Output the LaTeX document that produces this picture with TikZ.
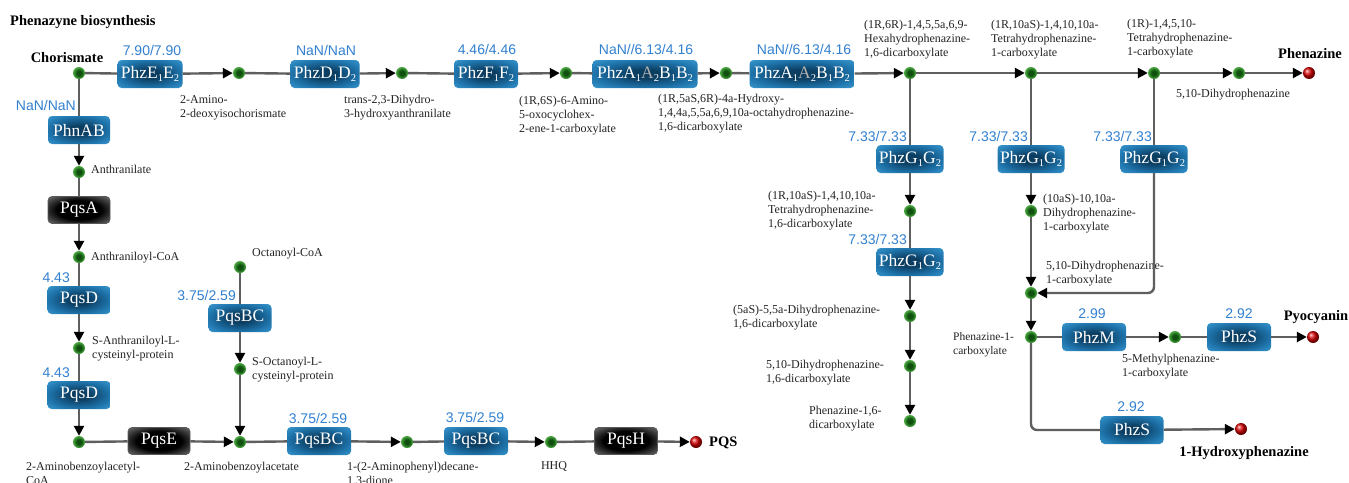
\documentclass[tikz,border=0pt]{standalone}
\usepackage{fontspec}
\setmainfont{Liberation Serif}
\newfontfamily\numfont{Liberation Sans}
\usetikzlibrary{arrows.meta,shapes.geometric}
\definecolor{numblue}{RGB}{50,128,208}
\definecolor{boxin}{RGB}{12,62,98}
\definecolor{boxmid}{RGB}{30,115,170}
\definecolor{boxout}{RGB}{62,160,215}
\definecolor{lnc}{RGB}{95,95,95}
\definecolor{lbc}{RGB}{35,35,35}
\definecolor{dotin}{RGB}{15,80,15}
\definecolor{dotout}{RGB}{75,170,65}
\definecolor{grA}{RGB}{175,175,175}
\newcommand\sbs[1]{\raisebox{-0.2em}{\fontsize{10.5}{10.5}\selectfont #1}}
\pgfdeclareradialshading{enzshade}{\pgfpoint{0bp}{0bp}}{color(0bp)=(boxin); color(8bp)=(boxin); color(24bp)=(boxmid); color(38bp)=(boxout); color(50bp)=(boxout)}
\pgfdeclareradialshading{blkshade}{\pgfpoint{0bp}{0bp}}{color(0bp)=(black); color(18bp)=(black); color(36bp)=(black!55); color(50bp)=(black!10)}
\pgfdeclareradialshading{dotshade}{\pgfpoint{0bp}{0bp}}{color(0bp)=(dotin); color(10bp)=(dotin); color(25bp)=(dotout); color(50bp)=(dotout)}
\begin{document}
\begin{tikzpicture}[x=1pt,y=-1pt,
  enz/.style={rectangle, rounded corners=4pt, shading=enzshade, text=white,
    font=\fontsize{17.5}{17.5}\selectfont, minimum height=28pt, minimum width=64pt, inner sep=1pt},
  blk/.style={rectangle, rounded corners=4pt, shading=blkshade, draw=black!65, line width=0.7pt,
    text=white, font=\fontsize{17.5}{17.5}\selectfont, minimum height=27pt, minimum width=62pt, inner sep=1pt},
  gdot/.style={circle, shading=dotshade, minimum size=12pt, inner sep=0pt},
  rdot/.style={circle, ball color=red!85!black, minimum size=12pt, inner sep=0pt},
  lbl/.style={anchor=base west, align=left, inner sep=0pt, text=lbc,
    font=\fontsize{12}{14}\selectfont},
  num/.style={inner sep=0pt, text=numblue, font=\numfont\fontsize{14}{14}\selectfont},
  bold/.style={inner sep=0pt, text=black, font=\bfseries\fontsize{14.5}{16}\selectfont},
  conn/.style={draw=lnc, line width=2.4pt},
  arr/.style={conn, -{Triangle[length=10pt,width=10pt,black]}}
]
\useasboundingbox (0,0) rectangle (1349,482);
\fill[white] (0,0) rectangle (1349,482);

\node[bold, anchor=base west] (title) at (10,25) {Phenazyne biosynthesis};

% ---------- top row ----------
\node[gdot] (chor) at (79,73) {};
\node[enz, minimum width=65pt] (E) at (150,74) {PhzE\sbs{1}E\sbs{2}};
\node[gdot] (d1) at (239,73) {};
\node[enz, minimum width=69pt] (D) at (325,74) {PhzD\sbs{1}D\sbs{2}};
\node[gdot] (d2) at (402,73) {};
\node[enz, minimum width=64pt] (F) at (486,74) {PhzF\sbs{1}F\sbs{2}};
\node[gdot] (d3) at (566,73) {};
\node[enz, minimum width=105pt] (A1) at (645,74) {PhzA\sbs{1}{\color{grA}A}\sbs{2}B\sbs{1}B\sbs{2}};
\node[gdot] (d4) at (726,73) {};
\node[enz, minimum width=105pt] (A2) at (802,74) {PhzA\sbs{1}{\color{grA}A}\sbs{2}B\sbs{1}B\sbs{2}};
\node[gdot] (d5) at (910,73) {};
\node[gdot] (d6) at (1031,73) {};
\node[gdot] (d7) at (1154,73) {};
\node[gdot] (d8) at (1239,73) {};
\node[rdot] (phen) at (1309,73) {};

\node[bold, anchor=base] (chorL) at (67,62.5) {Chorismate};
\node[bold, anchor=base] (phenL) at (1310,58) {Phenazine};

\node[num, anchor=base] (nE) at (152,55) {7.90/7.90};
\node[num, anchor=base] (nD) at (326,55) {NaN/NaN};
\node[num, anchor=base] (nF) at (487,54) {4.46/4.46};
\node[num, anchor=base] (nA1) at (646,54) {NaN//6.13/4.16};
\node[num, anchor=base] (nA2) at (804,54) {NaN//6.13/4.16};

\node[lbl] (l1) at (180,117) {2-Amino-\\2-deoxyisochorismate};
\node[lbl] (l2) at (344,117) {trans-2,3-Dihydro-\\3-hydroxyanthranilate};
\node[lbl] (l3) at (519,132) {(1R,6S)-6-Amino-\\5-oxocyclohex-\\2-ene-1-carboxylate};
\node[lbl] (l4) at (658,130) {(1R,5aS,6R)-4a-Hydroxy-\\1,4,4a,5,5a,6,9,10a-octahydrophenazine-\\1,6-dicarboxylate};
\node[lbl] (l5) at (864,56) {(1R,6R)-1,4,5,5a,6,9-\\Hexahydrophenazine-\\1,6-dicarboxylate};
\node[lbl] (l6) at (991,56) {(1R,10aS)-1,4,10,10a-\\Tetrahydrophenazine-\\1-carboxylate};
\node[lbl] (l7) at (1127,55) {(1R)-1,4,5,10-\\Tetrahydrophenazine-\\1-carboxylate};
\node[lbl] (l8) at (1176,97) {5,10-Dihydrophenazine};

\draw[conn] (chor) -- (E);
\draw[arr] (E) -- (d1);
\draw[conn] (d1) -- (D);
\draw[arr] (D) -- (d2);
\draw[conn] (d2) -- (F);
\draw[arr] (F) -- (d3);
\draw[conn] (d3) -- (A1);
\draw[arr] (A1) -- (d4);
\draw[conn] (d4) -- (A2);
\draw[arr] (A2) -- (d5);
\draw[arr] (d5) -- (d6);
\draw[arr] (d6) -- (d7);
\draw[arr] (d7) -- (d8);
\draw[arr] (d8) -- (phen);

% ---------- column 910 ----------
\node[enz, minimum width=67pt] (G1) at (910,159) {PhzG\sbs{1}G\sbs{2}};
\node[gdot] (e1) at (910,211) {};
\node[enz, minimum width=67pt] (G2) at (910,262) {PhzG\sbs{1}G\sbs{2}};
\node[gdot] (e2) at (910,316) {};
\node[gdot] (e3) at (910,366) {};
\node[gdot] (e4) at (910,421) {};
\node[num, anchor=base east] (nG1) at (907,141) {7.33/7.33};
\node[num, anchor=base east] (nG2) at (907,244) {7.33/7.33};
\node[lbl] (l9) at (768,227) {(1R,10aS)-1,4,10,10a-\\Tetrahydrophenazine-\\1,6-dicarboxylate};
\node[lbl] (l10) at (733,327) {(5aS)-5,5a-Dihydrophenazine-\\1,6-dicarboxylate};
\node[lbl] (l11) at (766,382) {5,10-Dihydrophenazine-\\1,6-dicarboxylate};
\node[lbl] (l12) at (809,428) {Phenazine-1,6-\\dicarboxylate};
\draw[conn] (d5) -- (G1);
\draw[arr] (G1) -- (e1);
\draw[conn] (e1) -- (G2);
\draw[arr] (G2) -- (e2);
\draw[arr] (e2) -- (e3);
\draw[arr] (e3) -- (e4);

% ---------- column 1031 / 1154 ----------
\node[enz, minimum width=67pt] (G3) at (1031,159) {PhzG\sbs{1}G\sbs{2}};
\node[gdot] (f1) at (1031,211) {};
\node[gdot] (f2) at (1031,293) {};
\node[enz, minimum width=67pt] (G4) at (1154,159) {PhzG\sbs{1}G\sbs{2}};
\node[num, anchor=base east] (nG3) at (1028,141) {7.33/7.33};
\node[num, anchor=base east] (nG4) at (1152,141) {7.33/7.33};
\node[lbl] (l13) at (1043,230) {(10aS)-10,10a-\\Dihydrophenazine-\\1-carboxylate};
\node[lbl] (l14) at (1046,283) {5,10-Dihydrophenazine-\\1-carboxylate};
\draw[conn] (d6) -- (G3);
\draw[arr] (G3) -- (f1);
\draw[arr] (f1) -- (f2);
\draw[conn] (d7) -- (G4);
\draw[arr, rounded corners=6pt] (G4) |- (f2);

% ---------- pyocyanin / hydroxyphenazine ----------
\node[gdot] (pca) at (1031,337) {};
\node[enz, minimum width=64pt] (M) at (1094,337) {PhzM};
\node[gdot] (mpc) at (1175,337) {};
\node[enz, minimum width=64pt] (S1) at (1239,337) {PhzS};
\node[rdot] (pyo) at (1313,337) {};
\node[enz, minimum width=63pt] (S2) at (1132,430) {PhzS};
\node[rdot] (hyd) at (1241,429) {};
\node[num, anchor=base] (nM) at (1092,318) {2.99};
\node[num, anchor=base] (nS1) at (1239,318) {2.92};
\node[num, anchor=base] (nS2) at (1131,411) {2.92};
\node[lbl, font=\fontsize{11.5}{14}\selectfont] (l15) at (953,354) {Phenazine-1-\\carboxylate};
\node[lbl] (l16) at (1122,376) {5-Methylphenazine-\\1-carboxylate};
\node[bold, anchor=base] (pyoL) at (1316,320) {Pyocyanin};
\node[bold, anchor=base] (hydL) at (1244,456) {1-Hydroxyphenazine};
\draw[arr] (f2) -- (pca);
\draw[conn] (pca) -- (M);
\draw[arr] (M) -- (mpc);
\draw[conn] (mpc) -- (S1);
\draw[arr] (S1) -- (pyo);
\draw[conn, rounded corners=6pt] (pca) |- (S2);
\draw[arr] (S2) -- (hyd);

% ---------- left column ----------
\node[enz, minimum width=62pt] (AB) at (79,130) {PhnAB};
\node[gdot] (anth) at (79,172) {};
\node[blk] (PA) at (79,210) {PqsA};
\node[gdot] (acoa) at (79,257) {};
\node[enz, minimum width=63pt] (PD1) at (79,300) {PqsD};
\node[gdot] (sacp) at (79,348) {};
\node[enz, minimum width=63pt] (PD2) at (79,395) {PqsD};
\node[gdot] (abac) at (79,442) {};
\node[num, anchor=base east] (nAB) at (76,110) {NaN/NaN};
\node[num, anchor=base east] (nPD1) at (70,282) {4.43};
\node[num, anchor=base east] (nPD2) at (70,377) {4.43};
\node[lbl] (l17) at (91,173) {Anthranilate};
\node[lbl] (l18) at (91,260) {Anthraniloyl-CoA};
\node[lbl] (l19) at (92,358) {S-Anthraniloyl-L-\\cysteinyl-protein};
\node[lbl] (l20) at (26,484) {2-Aminobenzoylacetyl-\\CoA};
\draw[conn] (chor) -- (AB);
\draw[arr] (AB) -- (anth);
\draw[conn] (anth) -- (PA);
\draw[arr] (PA) -- (acoa);
\draw[conn] (acoa) -- (PD1);
\draw[arr] (PD1) -- (sacp);
\draw[conn] (sacp) -- (PD2);
\draw[arr] (PD2) -- (abac);

% ---------- PQS branch ----------
\node[gdot] (oct) at (240,267) {};
\node[enz, minimum width=63pt] (BC1) at (240,318) {PqsBC};
\node[gdot] (socp) at (240,369) {};
\node[blk] (PE) at (159,441) {PqsE};
\node[gdot] (aba) at (240,442) {};
\node[enz, minimum width=64pt] (BC2) at (319,441) {PqsBC};
\node[gdot] (apd) at (407,442) {};
\node[enz, minimum width=64pt] (BC3) at (476,441) {PqsBC};
\node[gdot] (hhq) at (551,442) {};
\node[blk, minimum width=63pt] (PH) at (626,441) {PqsH};
\node[rdot] (pqs) at (696,442) {};
\node[num, anchor=base east] (nBC1) at (236,300) {3.75/2.59};
\node[num, anchor=base] (nBC2) at (318,423) {3.75/2.59};
\node[num, anchor=base] (nBC3) at (475,422) {3.75/2.59};
\node[lbl] (l21) at (252,256) {Octanoyl-CoA};
\node[lbl] (l22) at (252,379) {S-Octanoyl-L-\\cysteinyl-protein};
\node[lbl] (l23) at (184,470) {2-Aminobenzoylacetate};
\node[lbl] (l24) at (347,484) {1-(2-Aminophenyl)decane-\\1,3-dione};
\node[lbl, anchor=base] (l25) at (554,469) {HHQ};
\node[bold, anchor=base west] (pqsL) at (709,446) {PQS};
\draw[conn] (abac) -- (PE);
\draw[arr] (PE) -- (aba);
\draw[conn] (oct) -- (BC1);
\draw[arr] (BC1) -- (socp);
\draw[arr] (socp) -- (aba);
\draw[conn] (aba) -- (BC2);
\draw[arr] (BC2) -- (apd);
\draw[conn] (apd) -- (BC3);
\draw[arr] (BC3) -- (hhq);
\draw[conn] (hhq) -- (PH);
\draw[arr] (PH) -- (pqs);
\end{tikzpicture}
\end{document}
